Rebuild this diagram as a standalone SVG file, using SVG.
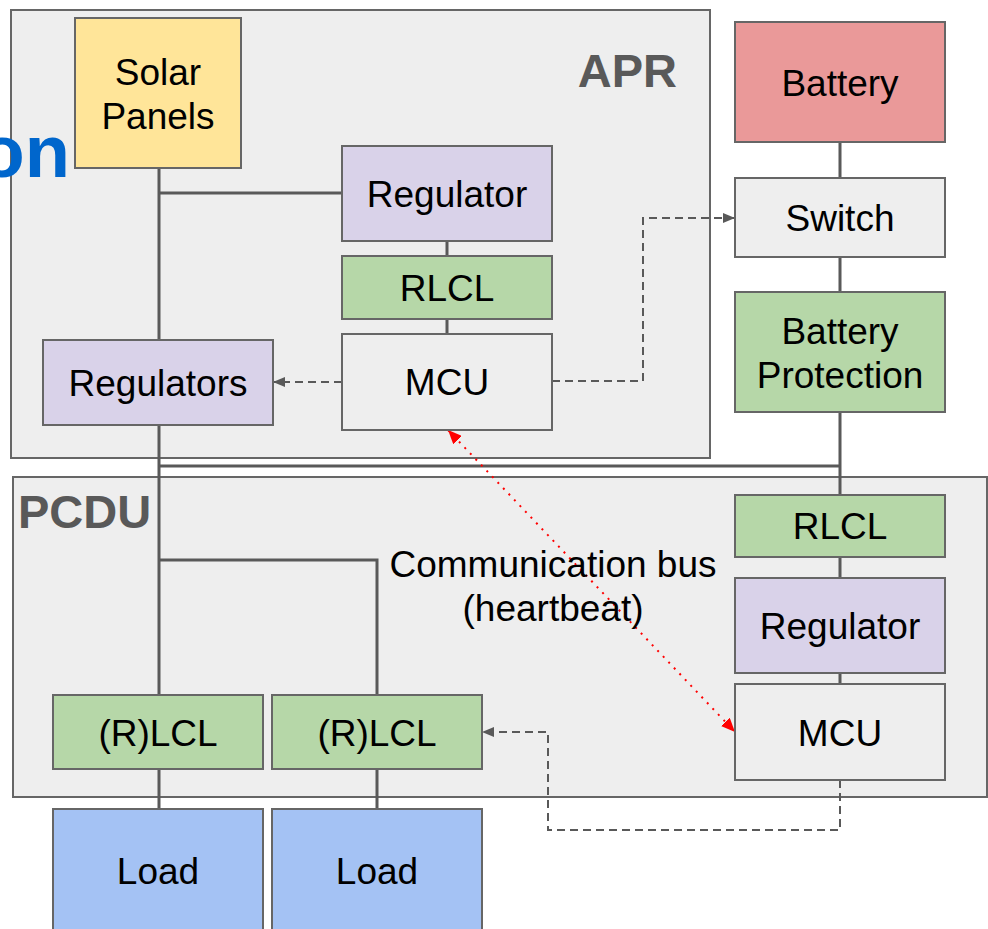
<svg xmlns="http://www.w3.org/2000/svg" width="988" height="929" viewBox="0 0 988 929">
<defs>
<style>
.box{stroke:#666666;stroke-width:2}
.t{font-family:"Liberation Sans",Arial,sans-serif;font-size:37px;fill:#000;text-anchor:middle}
.hdr{font-family:"Liberation Sans",Arial,sans-serif;font-size:47px;font-weight:bold;fill:#595959}
.wire{stroke:#595959;stroke-width:3;fill:none}
.dash{stroke:#595959;stroke-width:2;fill:none;stroke-dasharray:8 5}
.dot{stroke:#ff0000;stroke-width:2;fill:none;stroke-dasharray:2 6}
</style>
<marker id="ag" viewBox="0 0 12 10" refX="12" refY="5" markerWidth="12" markerHeight="10" markerUnits="userSpaceOnUse" orient="auto">
<path d="M0,0 L12,5 L0,10 Z" fill="#595959"/>
</marker>
<marker id="ar" viewBox="0 0 14 12" refX="14" refY="6" markerWidth="14" markerHeight="12" markerUnits="userSpaceOnUse" orient="auto-start-reverse">
<path d="M0,0 L14,6 L0,12 Z" fill="#ff0000"/>
</marker>
</defs>
<rect width="988" height="929" fill="#ffffff"/>
<g id="APR">
<rect x="11" y="10" width="699" height="448" fill="#eeeeee" class="box"/>
<text x="677" y="87" class="hdr" text-anchor="end">APR</text>
</g>
<g id="PCDU">
<rect x="13" y="477" width="974" height="320" fill="#eeeeee" class="box"/>
<text x="18" y="528" class="hdr">PCDU</text>
</g>
<text x="70" y="177" font-family="Liberation Sans,Arial,sans-serif" font-size="74" font-weight="bold" fill="#0066cc" text-anchor="end">on</text>
<g id="connectors">
<path class="wire" d="M159,168 V340 M159,193 H342 M447,241 V256 M447,319 V334 M159,425 V695 M159,466 H840 M840,142 V178 M840,257 V292 M840,412 V495 M840,557 V578 M840,673 V684 M159,560 H377 V695 M159,769 V809 M377,769 V809"/>
<path class="dash" d="M342,382 H273" marker-end="url(#ag)"/>
<path class="dash" d="M552,381 H643 V218 H735" marker-end="url(#ag)"/>
<path class="dash" d="M840,780 V830 H548 V732 H482" marker-end="url(#ag)"/>
<path class="dot" d="M448,430 L735,732" marker-start="url(#ar)" marker-end="url(#ar)"/>
</g>
<g id="solar"><rect x="75" y="18" width="166" height="150" fill="#ffe599" class="box"/><text x="158" y="85" class="t">Solar</text><text x="158" y="129" class="t">Panels</text></g>
<g id="regulator-apr"><rect x="342" y="146" width="210" height="95" fill="#d9d2e9" class="box"/><text x="447" y="207" class="t">Regulator</text></g>
<g id="rlcl-apr"><rect x="342" y="256" width="210" height="63" fill="#b6d7a8" class="box"/><text x="447" y="301" class="t">RLCL</text></g>
<g id="mcu-apr"><rect x="342" y="334" width="210" height="96" fill="#eeeeee" class="box"/><text x="447" y="395" class="t">MCU</text></g>
<g id="regulators"><rect x="43" y="340" width="230" height="85" fill="#d9d2e9" class="box"/><text x="158" y="396" class="t">Regulators</text></g>
<g id="battery"><rect x="735" y="22" width="210" height="120" fill="#ea9999" class="box"/><text x="840" y="96" class="t">Battery</text></g>
<g id="switch"><rect x="735" y="178" width="210" height="79" fill="#eeeeee" class="box"/><text x="840" y="231" class="t">Switch</text></g>
<g id="battery-protection"><rect x="735" y="292" width="210" height="120" fill="#b6d7a8" class="box"/><text x="840" y="344" class="t">Battery</text><text x="840" y="388" class="t">Protection</text></g>
<g id="rlcl-pcdu"><rect x="735" y="495" width="210" height="62" fill="#b6d7a8" class="box"/><text x="840" y="539" class="t">RLCL</text></g>
<g id="regulator-pcdu"><rect x="735" y="578" width="210" height="95" fill="#d9d2e9" class="box"/><text x="840" y="639" class="t">Regulator</text></g>
<g id="mcu-pcdu"><rect x="735" y="684" width="210" height="96" fill="#eeeeee" class="box"/><text x="840" y="746" class="t">MCU</text></g>
<g id="rlcl-1"><rect x="53" y="695" width="210" height="74" fill="#b6d7a8" class="box"/><text x="158" y="746" class="t">(R)LCL</text></g>
<g id="rlcl-2"><rect x="272" y="695" width="210" height="74" fill="#b6d7a8" class="box"/><text x="377" y="746" class="t">(R)LCL</text></g>
<g id="load-1"><rect x="53" y="809" width="210" height="130" fill="#a4c2f4" class="box"/><text x="158" y="884" class="t">Load</text></g>
<g id="load-2"><rect x="272" y="809" width="210" height="130" fill="#a4c2f4" class="box"/><text x="377" y="884" class="t">Load</text></g>
<g id="bus-label"><text x="553" y="577" class="t">Communication bus</text><text x="553" y="621" class="t">(heartbeat)</text></g>
</svg>
